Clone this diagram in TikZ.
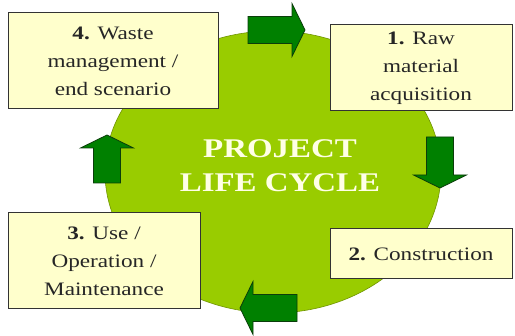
\documentclass[tikz,border=0pt]{standalone}
\usepackage{fontspec}
\setmainfont{Liberation Serif}[FakeStretch=1.22]
\usetikzlibrary{shapes.geometric}

\definecolor{leaf}{HTML}{99CC00}
\definecolor{leafdark}{HTML}{6F9400}
\definecolor{arrowgreen}{HTML}{008000}
\definecolor{arrowdark}{HTML}{0B3D0B}
\definecolor{cream}{HTML}{FFFFCC}
\definecolor{titlecream}{HTML}{FFFFE6}

\begin{document}
\begin{tikzpicture}[x=1pt,y=-1pt,
  stage/.style={rectangle,draw=black!80,line width=1pt,fill=cream,inner sep=0pt,
    align=center,text=black!85,font=\fontsize{19}{28}\selectfont},
  hub/.style={ellipse,fill=leaf,draw=leafdark,line width=0.6pt,
    minimum width=336pt,minimum height=282pt},
  turn/.pic={
    \draw[fill=arrowgreen,draw=arrowdark,line width=0.8pt,line join=miter]
      ({-#1/2},-13.5) -- ({#1/2-13},-13.5) -- ({#1/2-13},-26.5) -- ({#1/2},0)
      -- ({#1/2-13},26.5) -- ({#1/2-13},13.5) -- ({-#1/2},13.5) -- cycle;
  }]
\useasboundingbox (0,0) rectangle (515,336);

% the life cycle disc
\node[hub] (hub) at (273,172) {};
\node[text=titlecream,align=center,font=\fontsize{27}{34}\selectfont\bfseries]
  (title) at (280,166) {PROJECT\\LIFE CYCLE};

% arrows going round clockwise
\foreach \cx/\cy/\ang/\len in {276.5/30/0/57, 440/162.5/-90/51,
                               268.5/308/180/57, 107/159/90/48} {
  \pic[rotate=\ang] at (\cx,\cy) {turn=\len};
}

% the four stages
\node[stage,minimum width=182pt,minimum height=86pt] (raw) at (421,68)
  {\textbf{1.} Raw\\material\\acquisition};
\node[stage,minimum width=182pt,minimum height=50pt] (build) at (421,254)
  {\textbf{2.} Construction};
\node[stage,minimum width=192pt,minimum height=96pt] (use) at (104,261)
  {\textbf{3.} Use /\\Operation /\\Maintenance};
\node[stage,minimum width=210pt,minimum height=96pt] (waste) at (113,61)
  {\textbf{4.} Waste\\management /\\end scenario};
\end{tikzpicture}
\end{document}
